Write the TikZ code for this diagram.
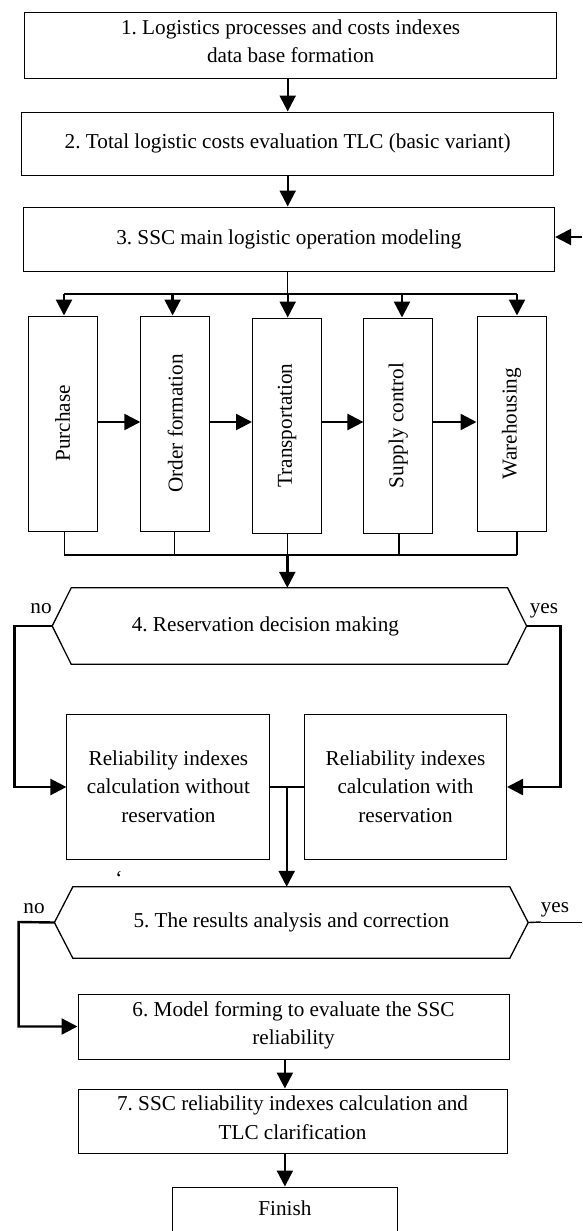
\documentclass[tikz,border=0pt]{standalone}
\usepackage{fontspec}
\setmainfont{Liberation Serif}
\usepackage{graphicx}
\usetikzlibrary{arrows.meta,calc}
\newcommand\fs{\fontsize{21.2}{28.5}\selectfont\frenchspacing}
\tikzset{
  box/.style={draw, line width=1pt, inner sep=0pt, align=center, font=\fs},
  vbox/.style={draw, line width=1pt, inner sep=0pt, font=\fs, minimum width=69pt, minimum height=215pt},
  hexnode/.style={inner sep=0pt, font=\fs},
  hexline/.style={line width=1.3pt, line join=miter},
  arr/.style={line width=2.4pt, -{Triangle[length=16pt,width=16pt]}},
  ln/.style={line width=1.4pt},
  thinln/.style={line width=0.7pt},
  lbl/.style={inner sep=0pt, font=\fs, anchor=base},
}
\begin{document}
\begin{tikzpicture}[x=1pt,y=-1pt]
\useasboundingbox (0,0) rectangle (582,1231);

% main boxes
\node[box, minimum width=532pt, minimum height=65pt] (b1) at (290.6,45.5)
  {1. Logistics processes and costs indexes\\data base formation\rule[-9pt]{0pt}{1pt}};
\node[box, minimum width=532pt, minimum height=63pt] (b2) at (287.7,143.5)
  {2. Total logistic costs evaluation TLC (basic variant)};
\node[box, minimum width=531.6pt, minimum height=64pt] (b3) at (288.8,239)
  {3. SSC main logistic operation modeling};

% process boxes
\node[vbox] (p1) at (62.5,423.5) {\rotatebox{90}{Purchase}};
\node[vbox] (p2) at (175.3,423.5) {\rotatebox{90}{Order formation}};
\node[vbox] (p3) at (287,425.5) {\rotatebox{90}{Transportation}};
\node[vbox] (p4) at (398.4,425.5) {\rotatebox{90}{Supply control}};
\node[vbox] (p5) at (511.5,423.5) {\rotatebox{90}{Warehousing}};

% decision 4
\node[hexnode, minimum width=474pt, minimum height=76pt] (d4) at (289.4,626)
  {4. Reservation decision making\hspace*{48pt}};
\draw[hexline] (d4.west) -- ([xshift=19pt]d4.north west) -- ([xshift=-19pt]d4.north east)
  -- (d4.east) -- ([xshift=-19pt]d4.south east) -- ([xshift=19pt]d4.south west) -- cycle;
\node[lbl] (no4) at (41,613) {no};
\node[lbl] (yes4) at (544,613) {yes};

% reliability boxes
\node[box, minimum width=203pt, minimum height=145pt] (r1) at (168.4,786.5)
  {Reliability indexes\\calculation without\\reservation};
\node[box, minimum width=202pt, minimum height=145pt] (r2) at (405.5,786.5)
  {Reliability indexes\\calculation with\\reservation};

\node[inner sep=0pt, font=\fs] (q) at (119,878) {‘};

% decision 5
\node[hexnode, minimum width=473.4pt, minimum height=71pt] (d5) at (291.3,922.5)
  {5. The results analysis and correction};
\draw[hexline] (d5.west) -- ([xshift=18.4pt]d5.north west) -- ([xshift=-18.4pt]d5.north east)
  -- (d5.east) -- ([xshift=-18.4pt]d5.south east) -- ([xshift=18.4pt]d5.south west) -- cycle;
\node[lbl] (no5) at (34,913) {no};
\node[lbl] (yes5) at (555,912) {yes};

% lower boxes
\node[box, minimum width=431pt, minimum height=65pt] (b6) at (293.5,1026.5)
  {6. Model forming to evaluate the SSC\\reliability\rule[-7pt]{0pt}{1pt}};
\node[box, minimum width=429pt, minimum height=64pt] (b7) at (292.5,1121)
  {7. SSC reliability indexes calculation and\\TLC clarification\rule[-7pt]{0pt}{1pt}};
\node[box, minimum width=224.3pt, minimum height=60pt, text height=14pt, text depth=18pt] (fin) at (284.9,1217)
  {Finish};

% coordinates
\coordinate (bt) at (287.7,294);
\coordinate (t1) at (64,294);
\coordinate (t2) at (172.6,294);
\coordinate (t3) at (287.7,294);
\coordinate (t4) at (402,294);
\coordinate (t5) at (517,294);
\coordinate (u1) at (64.3,555);
\coordinate (u2) at (174.3,555);
\coordinate (u3) at (287.3,555);
\coordinate (u4) at (399,555);
\coordinate (u5) at (517,555);
\coordinate (row) at (0,422);
\coordinate (rin) at (582,237);
\coordinate (n4) at (14.5,626);
\coordinate (y4) at (560.5,626);
\coordinate (mid) at (286.7,787);
\coordinate (n5) at (18.6,922);
\coordinate (y5a) at (541,922);
\coordinate (y5b) at (582,922);

% top flow
\draw[arr] (b2.center |- b1.south) -- (b2.north);
\draw[arr] (b2.south) -- (b2.south |- b3.north);
\draw[arr] (rin) -- (rin -| b3.east);

% top bus
\draw[ln] (b2.center |- b3.south) -- (bt);
\draw[ln] (t1) -- (t5);
\draw[arr] (t1) -- (t1 |- p1.north);
\draw[arr] (t2) -- (t2 |- p2.north);
\draw[arr] (t3) -- (t3 |- p3.north);
\draw[arr] (t4) -- (t4 |- p4.north);
\draw[arr] (t5) -- (t5 |- p5.north);

% between processes
\draw[arr] (p1.east |- row) -- (p2.west |- row);
\draw[arr] ([xshift=-1.5pt]p2.east |- row) -- (p3.west |- row);
\draw[arr] (p3.east |- row) -- (p4.west |- row);
\draw[arr] (p4.east |- row) -- (p5.west |- row);

% bottom bus
\draw[ln] (u1 |- p1.south) -- (u1);
\draw[ln] (u2 |- p2.south) -- (u2);
\draw[ln] (u3 |- p3.south) -- (u3);
\draw[ln] (u4 |- p4.south) -- (u4);
\draw[ln] (u5 |- p5.south) -- (u5);
\draw[ln] (u1) -- (u5);
\draw[arr] (u3) -- (u3 |- d4.north);

% decision 4 branches
\draw[arr] (d4.west) -- (n4) -- (n4 |- mid) -- (mid -| r1.west);
\draw[arr] (d4.east) -- (y4) -- (y4 |- mid) -- (mid -| r2.east);

% join reliability
\draw[ln] (mid -| r1.east) -- (mid -| r2.west);
\draw[arr] (mid) -- (mid |- d5.north);

% decision 5 branches
\draw[arr] (d5.west) -- (n5) -- (n5 |- b6.west) -- (b6.west);
\draw[ln] (d5.east) -- (y5a);
\draw[thinln] (y5a) -- (y5b);

% lower flow
\draw[arr] (fin.north |- b6.south) -- (fin.north |- b7.north);
\draw[arr] (b7.south -| fin.north) -- (fin.north);
\end{tikzpicture}
\end{document}
